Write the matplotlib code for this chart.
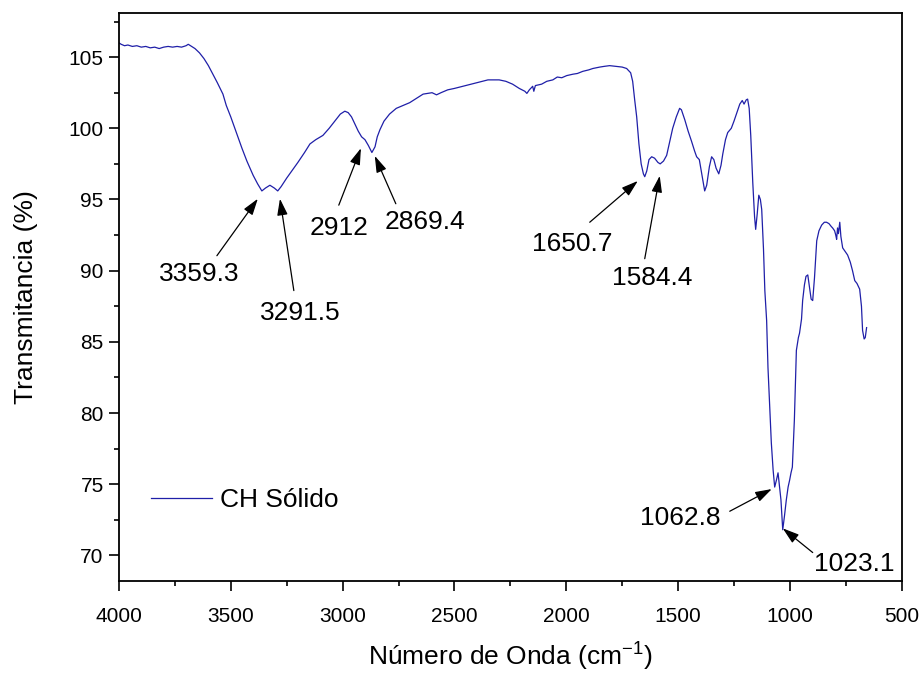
import matplotlib
matplotlib.use('Agg')
import matplotlib.pyplot as plt
from matplotlib.ticker import MultipleLocator

plt.rcParams['font.family'] = ['Liberation Sans', 'DejaVu Sans']

# espectro FTIR
wavenumber = [4000, 3990, 3975, 3960, 3940, 3920, 3900, 3880, 3860, 3840, 3820, 3800,
              3780, 3760, 3740, 3720, 3700, 3690, 3680, 3660, 3640, 3620, 3600, 3580,
              3560, 3535, 3520, 3500, 3473, 3450, 3428, 3400, 3380, 3361, 3345, 3325,
              3305, 3290, 3275, 3250, 3227, 3200, 3170, 3146, 3120, 3088, 3060, 3030,
              3010, 2990, 2975, 2960, 2945, 2930, 2915, 2900, 2885, 2869, 2855, 2845,
              2833, 2815, 2790, 2760, 2730, 2700, 2670, 2640, 2600, 2580, 2560, 2530,
              2500, 2450, 2400, 2350, 2300, 2270, 2240, 2210, 2185, 2176, 2165, 2150,
              2145, 2138, 2110, 2087, 2060, 2040, 2020, 1998, 1970, 1950, 1926, 1900,
              1881, 1850, 1830, 1806, 1780, 1750, 1730, 1712, 1703, 1694, 1685, 1675,
              1665, 1655, 1649, 1640, 1630, 1618, 1605, 1590, 1580, 1565, 1551, 1538,
              1524, 1508, 1493, 1485, 1470, 1455, 1440, 1426, 1417, 1405, 1395, 1381,
              1372, 1360, 1350, 1340, 1330, 1318, 1308, 1300, 1288, 1278, 1262, 1250,
              1235, 1224, 1213, 1205, 1195, 1189, 1182, 1175, 1166, 1158, 1153, 1146,
              1139, 1132, 1126, 1118, 1112, 1104, 1098, 1090, 1083, 1075, 1068, 1060,
              1053, 1046, 1040, 1032, 1024, 1016, 1008, 1001, 995, 989, 980, 971,
              962, 957, 948, 943, 935, 928, 920, 912, 905, 898, 890, 880,
              870, 858, 846, 836, 825, 815, 809, 800, 795, 791, 787, 783,
              777, 772, 764, 755, 742, 730, 720, 710, 700, 688, 680, 675,
              668, 663, 657]
transmitancia = [106.0, 105.9, 105.8, 105.85, 105.75, 105.8, 105.7, 105.75, 105.65, 105.7, 105.6, 105.7,
                 105.75, 105.7, 105.75, 105.7, 105.8, 105.9, 105.8, 105.6, 105.3, 104.9, 104.4, 103.8,
                 103.2, 102.4, 101.6, 100.8, 99.6, 98.6, 97.7, 96.7, 96.1, 95.6, 95.8, 96.0,
                 95.8, 95.6, 95.9, 96.5, 97.0, 97.6, 98.3, 98.9, 99.2, 99.5, 100.0, 100.6,
                 101.0, 101.2, 101.1, 100.8, 100.3, 99.8, 99.4, 99.2, 98.8, 98.3, 98.7, 99.4,
                 99.9, 100.5, 101.0, 101.4, 101.6, 101.8, 102.1, 102.4, 102.5, 102.35, 102.5, 102.7,
                 102.8, 103.0, 103.2, 103.4, 103.4, 103.3, 103.1, 102.8, 102.6, 102.45, 102.7, 102.95,
                 102.6, 103.0, 103.1, 103.3, 103.4, 103.6, 103.55, 103.7, 103.8, 103.85, 104.0, 104.1,
                 104.2, 104.3, 104.35, 104.4, 104.35, 104.3, 104.2, 103.9, 103.3, 102.0, 100.8, 98.9,
                 97.5, 96.8, 96.6, 97.0, 97.8, 98.0, 97.9, 97.6, 97.5, 97.7, 98.1, 99.0,
                 100.0, 100.8, 101.4, 101.3, 100.6, 99.8, 99.1, 98.4, 98.0, 97.8, 96.9, 95.6,
                 96.0, 97.3, 98.0, 97.8, 97.2, 96.8, 97.4, 98.2, 99.2, 99.7, 100.0, 100.5,
                 101.2, 101.7, 101.95, 101.7, 102.0, 102.05, 101.4, 99.5, 96.2, 93.8, 92.9, 94.0,
                 95.3, 95.0, 94.3, 91.5, 88.6, 86.5, 83.2, 80.3, 77.9, 76.0, 74.8, 75.3,
                 75.8, 74.8, 73.9, 71.8, 72.8, 73.9, 74.8, 75.3, 75.8, 76.2, 79.5, 84.4,
                 85.3, 85.6, 86.6, 87.9, 89.0, 89.6, 89.7, 88.8, 88.0, 87.9, 89.5, 92.1,
                 92.8, 93.2, 93.4, 93.4, 93.3, 93.1, 93.0, 92.8, 92.5, 92.2, 93.0, 92.6,
                 93.4, 92.4, 91.6, 91.4, 91.1, 90.6, 90.0, 89.3, 89.1, 88.7, 87.5, 85.8,
                 85.2, 85.3, 86.0]

# etiquetas de picos: texto, punta de flecha, inicio de flecha, centro del texto
peak_labels = ['3359.3', '3291.5', '2912', '2869.4', '1650.7', '1584.4', '1062.8', '1023.1']
arrow_heads = [(3379, 95.05), (3280, 95.05), (2918, 98.6), (2856, 98.06),
               (1680, 96.3), (1582, 96.66), (1081, 74.66), (1032, 71.9)]
arrow_tails = [(3562, 91.05), (3218, 88.6), (3017, 94.6), (2762, 94.7),
               (1895, 93.4), (1649, 90.84), (1269, 73.1), (898, 70.2)]
label_pos = [(3642, 89.8), (3191, 87.06), (3017, 93.0), (2632, 93.4),
             (1975, 91.9), (1617, 89.5), (1492, 72.6), (714, 69.4)]

fig = plt.figure(figsize=(9.22, 6.79), dpi=100)
ax = fig.add_axes([0.129, 0.1443, 0.849, 0.8366])

ax.plot(wavenumber, transmitancia, color='#1f1fa8', lw=0.9, label='CH Sólido')

for txt, head, tail, pos in zip(peak_labels, arrow_heads, arrow_tails, label_pos):
    ax.annotate('', xy=head, xytext=tail,
                arrowprops=dict(arrowstyle='-|>,head_length=1.0,head_width=0.32',
                                color='black', lw=0.9, shrinkA=0, shrinkB=0))
    ax.text(pos[0], pos[1], txt, fontsize=19, ha='center', va='center')

ax.set_xlim(4000, 500)
ax.set_ylim(68.2, 108.1)
ax.xaxis.set_major_locator(MultipleLocator(500))
ax.xaxis.set_minor_locator(MultipleLocator(250))
ax.yaxis.set_major_locator(MultipleLocator(5))
ax.yaxis.set_minor_locator(MultipleLocator(2.5))
ax.set_yticks([70, 75, 80, 85, 90, 95, 100, 105])

ax.tick_params(which='major', direction='out', length=7, width=1.2, labelsize=15)
ax.tick_params(which='minor', direction='out', length=3.5, width=1.2)
ax.tick_params(axis='x', which='major', pad=12)
ax.tick_params(axis='y', which='major', pad=4)
for s in ax.spines.values():
    s.set_linewidth(1.3)

ax.set_xlabel('Número de Onda (cm$^{\\mathregular{-1}}$)', fontsize=19, labelpad=9)
ax.set_ylabel('Transmitancia (%)', fontsize=19, labelpad=22)

ax.legend(loc='center left', bbox_to_anchor=(0.041, 0.1426), frameon=False,
          fontsize=19, handlelength=2.3, handletextpad=0.3,
          borderpad=0, borderaxespad=0)

plt.savefig('out.png', dpi=100)
plt.close()
